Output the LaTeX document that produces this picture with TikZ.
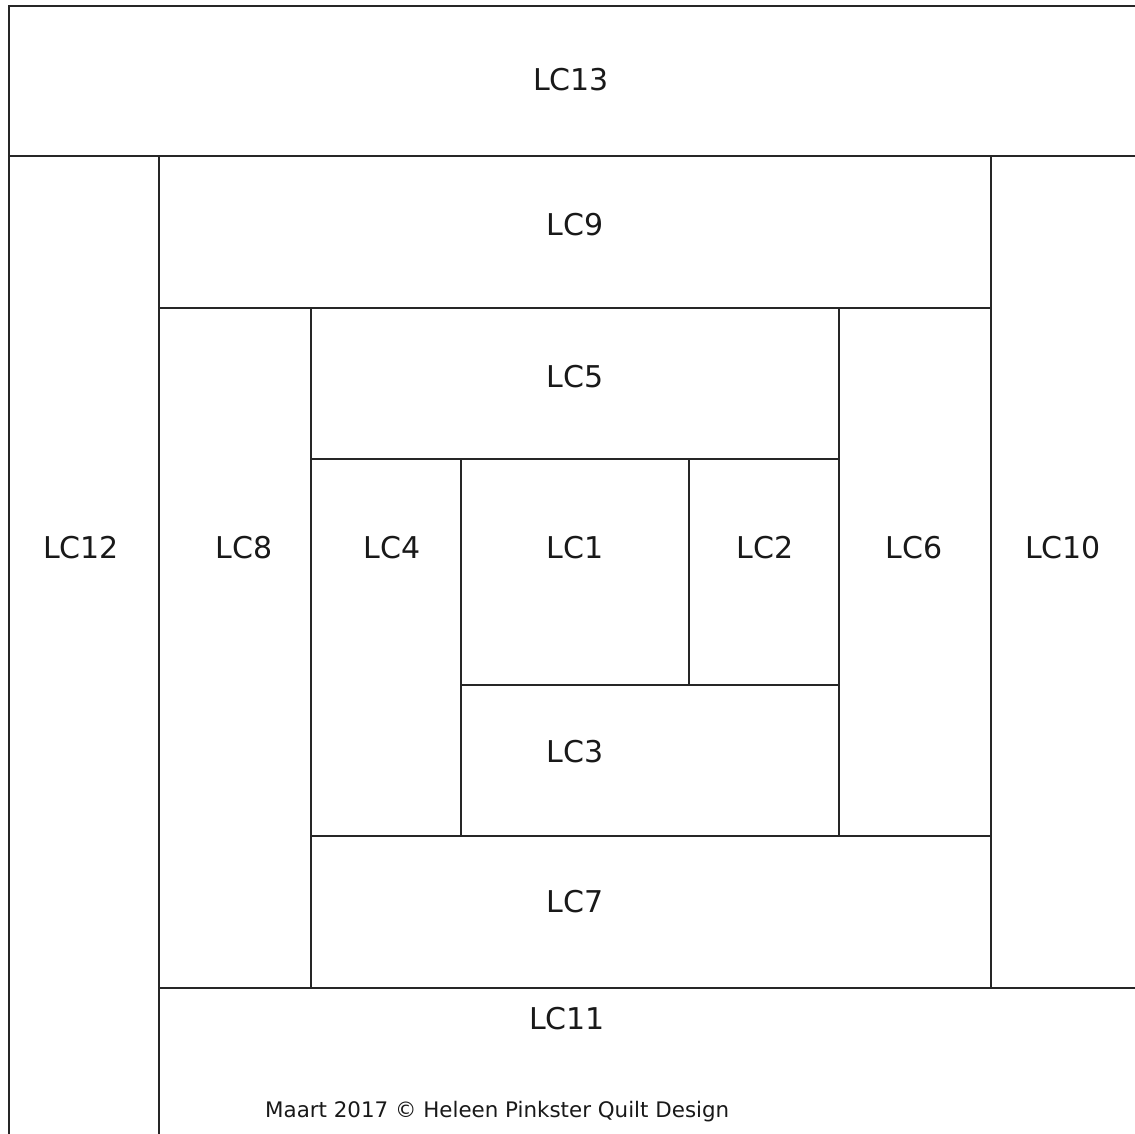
\documentclass[tikz,border=0pt]{standalone}
\usepackage{fontspec}
\setmainfont{DejaVu Sans}
\begin{document}
\begin{tikzpicture}[x=1pt,y=-1pt,
  seam/.style={draw=black!85,line width=1.3pt},
  lbl/.style={font=\fontsize{30}{36}\selectfont,inner sep=0pt,text=black!90},
  foot/.style={font=\fontsize{21.4}{25}\selectfont,inner sep=0pt,text=black!90,anchor=west}]
\useasboundingbox (0,0) rectangle (1135,1133);
\clip (0,0) rectangle (1135,1133);
\fill[white] (0,0) rectangle (1135,1133);
% outer lines
\draw[seam] (1140,6) -- (9,6) -- (9,1140);
\draw[seam] (9,156) -- (1140,156);
\draw[seam] (159,1140) -- (159,156);
\draw[seam] (991,156) -- (991,988);
\draw[seam] (159,308) -- (991,308);
\draw[seam] (159,988) -- (1140,988);
\draw[seam] (311,308) -- (311,988);
\draw[seam] (839,308) -- (839,836);
\draw[seam] (311,459) -- (839,459);
\draw[seam] (461,459) -- (461,836);
\draw[seam] (689,459) -- (689,685);
\draw[seam] (461,685) -- (839,685);
\draw[seam] (311,836) -- (991,836);
% labels
\node[lbl] (lc13) at (571,80) {LC13};
\node[lbl] (lc9) at (575,225) {LC9};
\node[lbl] (lc5) at (575,377) {LC5};
\node[lbl] (lc12) at (81,548) {LC12};
\node[lbl] (lc8) at (244,548) {LC8};
\node[lbl] (lc4) at (392,548) {LC4};
\node[lbl] (lc1) at (575,548) {LC1};
\node[lbl] (lc2) at (765,548) {LC2};
\node[lbl] (lc6) at (914,548) {LC6};
\node[lbl] (lc10) at (1063,548) {LC10};
\node[lbl] (lc3) at (575,752) {LC3};
\node[lbl] (lc7) at (575,902) {LC7};
\node[lbl] (lc11) at (567,1019) {LC11};
\node[foot] (copy) at (265,1112) {Maart 2017 © Heleen Pinkster Quilt Design};
\end{tikzpicture}
\end{document}
